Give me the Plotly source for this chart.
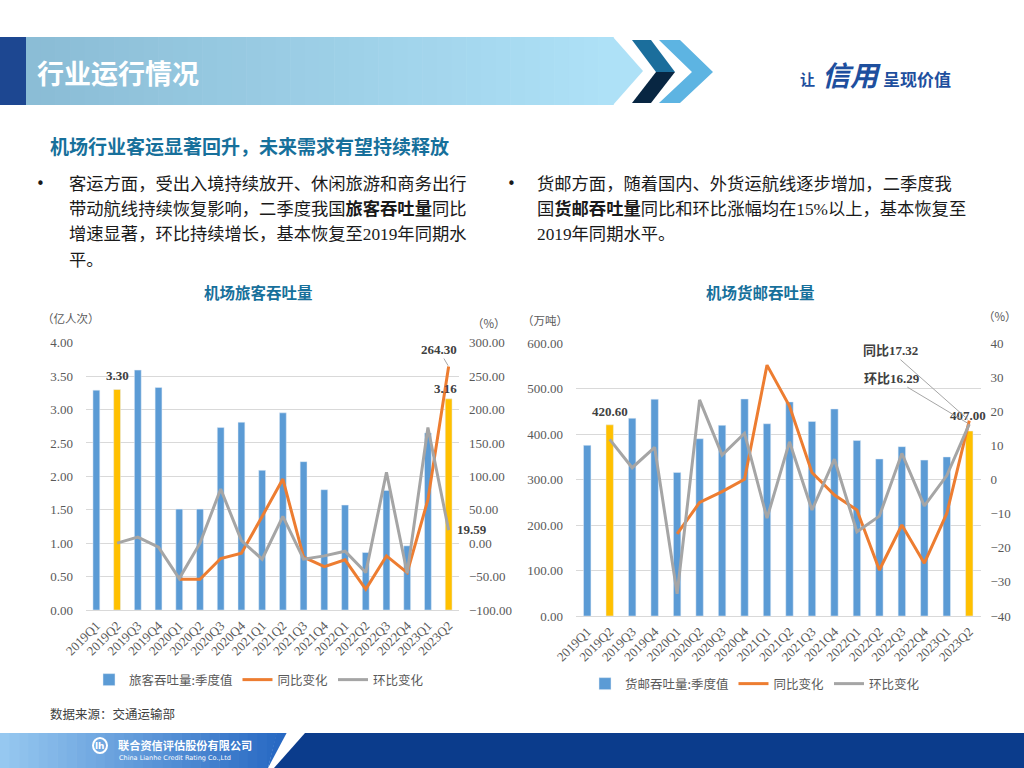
import plotly.graph_objects as go

# ---------------- data ----------------
quarters = ['2019Q1', '2019Q2', '2019Q3', '2019Q4', '2020Q1', '2020Q2', '2020Q3', '2020Q4',
            '2021Q1', '2021Q2', '2021Q3', '2021Q4', '2022Q1', '2022Q2', '2022Q3', '2022Q4',
            '2023Q1', '2023Q2']
highlight = ['2019Q2', '2023Q2']

passenger = [3.29, 3.30, 3.59, 3.33, 1.51, 1.51, 2.73, 2.81, 2.09, 2.95, 2.22, 1.80,
             1.57, 0.86, 1.79, 0.96, 2.65, 3.16]
passenger_yoy = [None, None, None, None, -54, -54, -23, -15, 40, 96, -21, -35,
                 -25, -69, -19, -44, 65, 264.30]
passenger_qoq = [None, 0, 9, -6, -53, 0, 81, 4, -24, 40, -24, -19,
                 -12, -44, 106, -45, 173, 19.59]

cargo = [375.5, 420.60, 435, 477, 316, 390, 419.5, 477.5, 423, 471, 428, 455.5,
         386, 345.5, 372.6, 343, 350, 407.00]
cargo_yoy = [None, None, None, None, -15.9, -6.7, -3.5, 0.1, 33.6, 21.6, 2.1, -4.5,
             -8.9, -26.5, -13.3, -24.5, -9.9, 17.32]
cargo_qoq = [None, 11.8, 3.5, 9.5, -33.5, 23.4, 7.2, 13.6, -11.3, 11.1, -8.9, 6.0,
             -15.3, -10.7, 7.7, -7.7, 1.2, 16.29]

passenger_ticks_left = [0, 0.5, 1, 1.5, 2, 2.5, 3, 3.5, 4]
passenger_ticks_right = [-100, -50, 0, 50, 100, 150, 200, 250, 300]
cargo_ticks_left = [0, 100, 200, 300, 400, 500, 600]
cargo_ticks_right = [-40, -30, -20, -10, 0, 10, 20, 30, 40]

# ---------------- styles ----------------
W, H = 1024, 768
BLUE, GOLD, ORANGE, GREY = '#5B9BD5', '#FFC000', '#ED7D31', '#A5A5A5'
TICK = '#595959'
SERIF = 'Liberation Serif, Noto Sans CJK SC'
SANS = 'Noto Sans CJK SC'
TEAL = '#17709B'


def X(px):
    return px / W


def Y(py):
    return 1 - py / H


bar_colors = [GOLD if q in highlight else BLUE for q in quarters]

fig = go.Figure()

# ---- chart 1 : passengers ----
fig.add_trace(go.Bar(x=quarters, y=passenger, marker_color=bar_colors, name='旅客吞吐量:季度值',
                     xaxis='x', yaxis='y', legend='legend', hoverinfo='x+y'))
fig.add_trace(go.Scatter(x=quarters, y=passenger_yoy, mode='lines', name='同比变化',
                         line=dict(color=ORANGE, width=3), xaxis='x', yaxis='y2', legend='legend'))
fig.add_trace(go.Scatter(x=quarters, y=passenger_qoq, mode='lines', name='环比变化',
                         line=dict(color=GREY, width=3), xaxis='x', yaxis='y2', legend='legend'))

# ---- chart 2 : cargo ----
fig.add_trace(go.Bar(x=quarters, y=cargo, marker_color=bar_colors, name='货邮吞吐量:季度值',
                     xaxis='x2', yaxis='y3', legend='legend2', hoverinfo='x+y'))
fig.add_trace(go.Scatter(x=quarters, y=cargo_yoy, mode='lines', name='同比变化',
                         line=dict(color=ORANGE, width=3), xaxis='x2', yaxis='y4', legend='legend2'))
fig.add_trace(go.Scatter(x=quarters, y=cargo_qoq, mode='lines', name='环比变化',
                         line=dict(color=GREY, width=3), xaxis='x2', yaxis='y4', legend='legend2'))

tickfont = dict(family=SERIF, size=13, color=TICK)
xtickfont = dict(family=SERIF, size=13, color=TICK)
cat_range = [-0.5, len(quarters) - 0.5]

def xaxis(domain, anchor):
    return dict(domain=domain, anchor=anchor, type='category', range=cat_range, autorange=False,
                tickangle=-45, tickfont=xtickfont,
                showgrid=False, showline=True, linecolor='#D9D9D9', linewidth=1, ticks='',
                ticklabelstandoff=2, automargin=False, fixedrange=True)

def yleft(domain, anchor, rng, ticks, fmt):
    return dict(domain=domain, anchor=anchor, range=rng, autorange=False, tickvals=ticks, tickformat=fmt,
                tickfont=tickfont, showgrid=True, gridcolor='#D9D9D9', gridwidth=1,
                zeroline=False, showline=False, ticks='', ticklabelstandoff=12,
                automargin=False, fixedrange=True)

def yright(overlay, anchor, rng, ticks, fmt):
    return dict(overlaying=overlay, anchor=anchor, side='right', range=rng, autorange=False,
                tickvals=ticks, tickformat=fmt, tickfont=tickfont, showgrid=False, zeroline=False,
                showline=False, ticks='', ticklabelstandoff=9, automargin=False, fixedrange=True)

c1x = [X(86), X(459)]
c1y = [Y(610), Y(342.7)]
c2x = [X(576), X(980.5)]
c2y = [Y(616), Y(343.3)]

fig.update_layout(
    xaxis=xaxis(c1x, 'y'),
    yaxis=yleft(c1y, 'x', [0, 4], passenger_ticks_left, '.2f'),
    yaxis2=yright('y', 'x', [-100, 300], passenger_ticks_right, '.2f'),
    xaxis2=xaxis(c2x, 'y3'),
    yaxis3=yleft(c2y, 'x2', [0, 600], cargo_ticks_left, '.2f'),
    yaxis4=yright('y3', 'x2', [-40, 40], cargo_ticks_right, 'd'),
)

legend_common = dict(orientation='h', yanchor='middle', xanchor='left',
                     font=dict(family=SANS, size=12.5, color=TICK), bgcolor='rgba(0,0,0,0)',
                     itemwidth=30, tracegroupgap=0, itemclick=False, itemdoubleclick=False)
fig.update_layout(
    legend=dict(x=X(89), y=Y(680), **legend_common),
    legend2=dict(x=X(585), y=Y(684), **legend_common),
)

shapes = []
ann = []

def path(pts):
    return 'M ' + ' L '.join('%f,%f' % (X(a), Y(b)) for a, b in pts) + ' Z'

# ---------------- header banner ----------------
shapes.append(dict(type='rect', xref='paper', yref='paper', x0=X(0), x1=X(26), y0=Y(105), y1=Y(37),
                   fillcolor='#1D4791', line_width=0, layer='below'))
n = 40
c0, c1 = (139, 189, 214), (174, 225, 247)
x_start, x_end = 26, 613
for i in range(n):
    t = i / (n - 1)
    col = 'rgb(%d,%d,%d)' % tuple(int(c0[k] + (c1[k] - c0[k]) * t) for k in range(3))
    xa = x_start + (x_end - x_start) * i / n
    xb = x_start + (x_end - x_start) * (i + 1) / n + 0.6
    shapes.append(dict(type='rect', xref='paper', yref='paper', x0=X(xa), x1=X(xb), y0=Y(105), y1=Y(37),
                       fillcolor=col, line_width=0, layer='below'))
shapes.append(dict(type='path', xref='paper', yref='paper',
                   path=path([(612, 37), (613, 37), (643, 71), (613, 105), (612, 105)]),
                   fillcolor='rgb(174,225,247)', line_width=0, layer='below'))
# chevron 1 (dark)
shapes.append(dict(type='path', xref='paper', yref='paper',
                   path=path([(632, 40), (651, 40), (675, 72), (656, 72)]),
                   fillcolor='#1B6E9C', line_width=0))
shapes.append(dict(type='path', xref='paper', yref='paper',
                   path=path([(656, 72), (675, 72), (651, 103), (632, 103)]),
                   fillcolor='#082642', line_width=0))
# chevron 2 (light)
shapes.append(dict(type='path', xref='paper', yref='paper',
                   path=path([(659, 40), (680, 40), (713, 72), (680, 103), (659, 103), (692, 72)]),
                   fillcolor='#5DB4E2', line_width=0))

ann.append(dict(text='<b>行业运行情况</b>', x=X(35), y=Y(72), xref='paper', yref='paper',
                xanchor='left', yanchor='middle', showarrow=False,
                font=dict(family=SANS, size=27, color='white')))
ann.append(dict(text='<b>让</b>', x=X(798), y=Y(78), xref='paper', yref='paper', xanchor='left',
                yanchor='middle', showarrow=False, font=dict(family=SANS, size=15, color='#1E4F9E')))
ann.append(dict(text='<b><i>信用</i></b>', x=X(820), y=Y(74), xref='paper', yref='paper', xanchor='left',
                yanchor='middle', showarrow=False, font=dict(family=SANS, size=28, color='#1E4F9E')))
ann.append(dict(text='<b>呈现价值</b>', x=X(881), y=Y(78), xref='paper', yref='paper', xanchor='left',
                yanchor='middle', showarrow=False, font=dict(family=SANS, size=17, color='#1E4F9E')))

# ---------------- subtitle & bullets ----------------
ann.append(dict(text='<b>机场行业客运显著回升，未来需求有望持续释放</b>', x=X(48), y=Y(145),
                xref='paper', yref='paper', xanchor='left', yanchor='middle', showarrow=False,
                font=dict(family=SANS, size=19, color=TEAL)))

body_font = dict(family=SERIF, size=17.3, color='#1A1A1A')
left_lines = ['客运方面，受出入境持续放开、休闲旅游和商务出行',
              '带动航线持续恢复影响，二季度我国<b>旅客吞吐量</b>同比',
              '增速显著，环比持续增长，基本恢复至2019年同期水',
              '平。']
right_lines = ['货邮方面，随着国内、外货运航线逐步增加，二季度我',
               '国<b>货邮吞吐量</b>同比和环比涨幅均在15%以上，基本恢复至',
               '2019年同期水平。']
line_y = [184, 209.5, 235, 260.5]
for i, t in enumerate(left_lines):
    ann.append(dict(text=t, x=X(67), y=Y(line_y[i]), xref='paper', yref='paper', xanchor='left',
                    yanchor='middle', showarrow=False, font=body_font))
for i, t in enumerate(right_lines):
    ann.append(dict(text=t, x=X(535), y=Y(line_y[i]), xref='paper', yref='paper', xanchor='left',
                    yanchor='middle', showarrow=False, font=body_font))
for bx in (34, 505):
    ann.append(dict(text='•', x=X(bx), y=Y(184), xref='paper', yref='paper', xanchor='left',
                    yanchor='middle', showarrow=False, font=dict(family='DejaVu Sans', size=15, color='#1A1A1A')))

# ---------------- chart titles & units ----------------
ann.append(dict(text='<b>机场旅客吞吐量</b>', x=X(258), y=Y(292), xref='paper', yref='paper',
                xanchor='center', yanchor='middle', showarrow=False,
                font=dict(family=SANS, size=15.5, color=TEAL)))
ann.append(dict(text='<b>机场货邮吞吐量</b>', x=X(760), y=Y(292), xref='paper', yref='paper',
                xanchor='center', yanchor='middle', showarrow=False,
                font=dict(family=SANS, size=15.5, color=TEAL)))
unit_font = dict(family=SANS, size=11.5, color=TICK)
for txt, ux, uy in [('（亿人次）', 40, 318), ('（%）', 470, 323), ('（万吨）', 520, 320), ('（%）', 981, 316)]:
    ann.append(dict(text=txt, x=X(ux), y=Y(uy), xref='paper', yref='paper', xanchor='left',
                    yanchor='middle', showarrow=False, font=unit_font))

# ---------------- data labels ----------------
lab_font = dict(family=SERIF, size=13, color='#404040')
i2 = quarters.index('2019Q2')
ilast = len(quarters) - 1
ann.append(dict(text='<b>%.2f</b>' % passenger[i2], x=quarters[i2], y=passenger[i2], xref='x', yref='y',
                yanchor='bottom', yshift=4, showarrow=False, font=lab_font))
ann.append(dict(text='<b>%.2f</b>' % passenger[ilast], x=quarters[ilast], y=passenger[ilast], xref='x',
                yref='y', yanchor='bottom', yshift=1, xshift=-3, showarrow=False, font=lab_font))
ann.append(dict(text='<b>%.2f</b>' % passenger_yoy[ilast], x=quarters[ilast], y=passenger_yoy[ilast],
                xref='x', yref='y2', showarrow=True, arrowhead=0, arrowwidth=1, arrowcolor='#A6A6A6',
                ax=-10, ay=-17, standoff=1, font=lab_font))
ann.append(dict(text='<b>%.2f</b>' % passenger_qoq[ilast], x=quarters[ilast], y=passenger_qoq[ilast],
                xref='x', yref='y2', xanchor='left', yanchor='middle', xshift=6, yshift=1,
                showarrow=False, font=lab_font))

ann.append(dict(text='<b>%.2f</b>' % cargo[i2], x=quarters[i2], y=cargo[i2], xref='x2', yref='y3',
                yanchor='bottom', yshift=4, showarrow=False, font=lab_font))
ann.append(dict(text='<b>%.2f</b>' % cargo[ilast], x=quarters[ilast], y=cargo[ilast], xref='x2', yref='y3',
                yanchor='bottom', yshift=6, xshift=-1, showarrow=False, font=lab_font))
ann.append(dict(text='<b>同比%.2f</b>' % cargo_yoy[ilast], x=quarters[ilast], y=cargo_yoy[ilast],
                xref='x2', yref='y4', showarrow=True, arrowhead=0, arrowwidth=1, arrowcolor='#A6A6A6',
                ax=-79, ay=-70, standoff=2, font=lab_font))
ann.append(dict(text='<b>环比%.2f</b>' % cargo_qoq[ilast], x=quarters[ilast], y=cargo_qoq[ilast],
                xref='x2', yref='y4', showarrow=True, arrowhead=0, arrowwidth=1, arrowcolor='#A6A6A6',
                ax=-77, ay=-46, standoff=2, font=lab_font))

# ---------------- footer ----------------
ann.append(dict(text='数据来源：交通运输部', x=X(48), y=Y(713), xref='paper', yref='paper', xanchor='left',
                yanchor='middle', showarrow=False, font=dict(family=SANS, size=12.5, color='#404040')))

shapes.append(dict(type='path', xref='paper', yref='paper',
                   path=path([(305, 733), (1024, 733), (1024, 768), (274, 768)]),
                   fillcolor='#0B3C8C', line_width=0, layer='below'))
m = 30
f0, f1 = (150, 200, 240), (40, 105, 195)
for i in range(m):
    t = i / (m - 1)
    col = 'rgb(%d,%d,%d)' % tuple(int(f0[k] + (f1[k] - f0[k]) * t) for k in range(3))
    xa = 286 * i / m
    xb = 286 * (i + 1) / m + 0.6
    xa_b = min(xa, 268)
    xb_b = min(xb, 268)
    shapes.append(dict(type='path', xref='paper', yref='paper',
                       path=path([(xa, 733), (xb, 733), (xb_b, 768), (xa_b, 768)]),
                       fillcolor=col, line_width=0, layer='below'))
shapes.append(dict(type='circle', xref='paper', yref='paper', x0=X(93), x1=X(107), y0=Y(753), y1=Y(738),
                   line=dict(color='white', width=2), fillcolor='rgba(0,0,0,0)'))
ann.append(dict(text='<b>lh</b>', x=X(100), y=Y(745.5), xref='paper', yref='paper', xanchor='center',
                yanchor='middle', showarrow=False, font=dict(family='DejaVu Sans', size=9, color='white')))
ann.append(dict(text='<b>联合资信评估股份有限公司</b>', x=X(116), y=Y(745), xref='paper', yref='paper',
                xanchor='left', yanchor='middle', showarrow=False,
                font=dict(family=SANS, size=11.2, color='white')))
ann.append(dict(text='China Lianhe Credit Rating Co.,Ltd', x=X(117), y=Y(758), xref='paper', yref='paper',
                xanchor='left', yanchor='middle', showarrow=False,
                font=dict(family='DejaVu Sans', size=6.5, color='white')))

fig.update_layout(
    width=W, height=H, autosize=False,
    margin=dict(l=0, r=0, t=0, b=0, pad=0),
    paper_bgcolor='white', plot_bgcolor='rgba(0,0,0,0)',
    bargap=0.67, showlegend=True,
    shapes=shapes, annotations=ann,
    font=dict(family=SANS),
)

fig.write_html('out.html', config={'displayModeBar': False},
               post_script="document.body.style.margin='0';document.body.style.padding='0';"
                           "document.body.style.overflow='hidden';")
